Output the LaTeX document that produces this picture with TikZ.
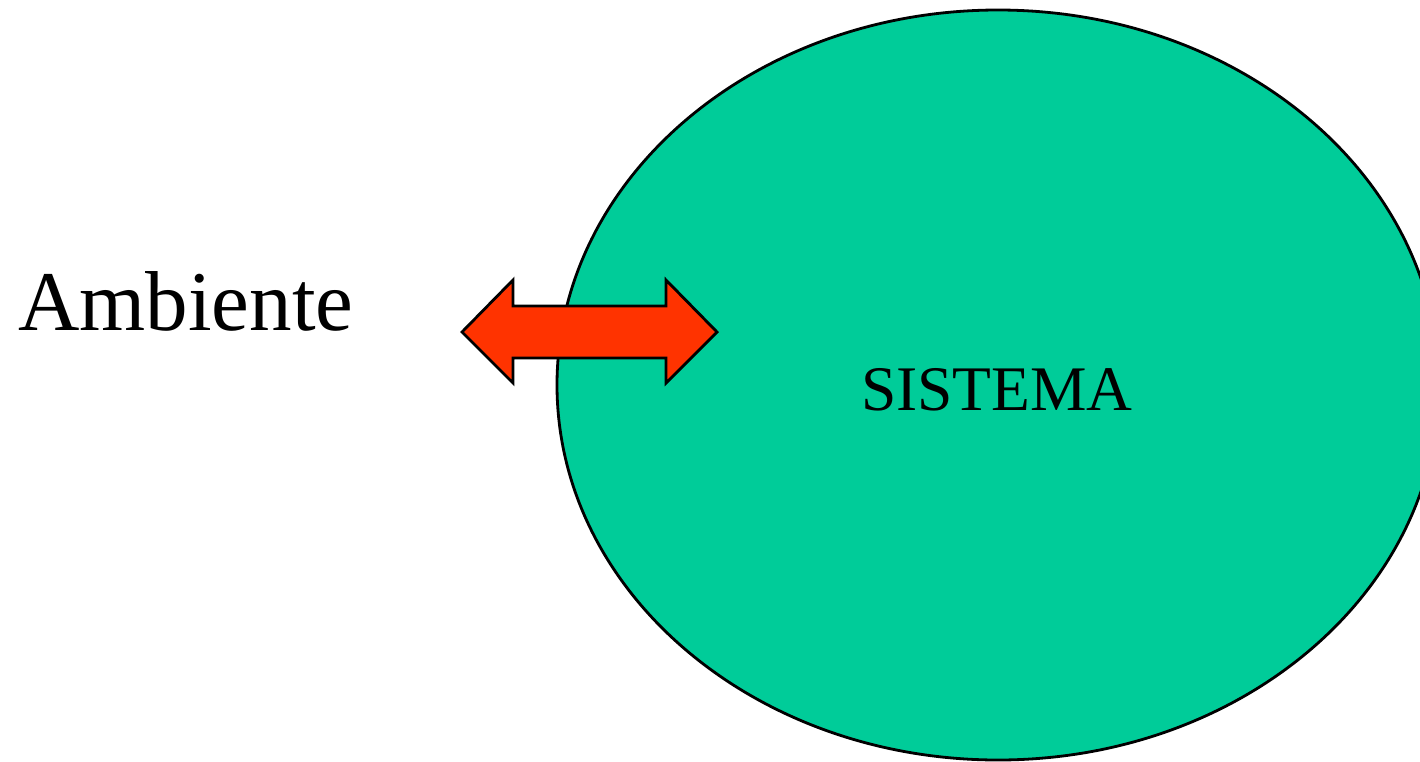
\documentclass[tikz,border=0pt]{standalone}
\usepackage{fontspec}
\setmainfont{Liberation Serif}
\definecolor{sysgreen}{HTML}{00CC99}
\definecolor{flowred}{HTML}{FF3300}
\begin{document}
\begin{tikzpicture}[x=1pt,y=-1pt,
  outline/.style={draw=black,line width=2.8pt,line join=miter}]
\useasboundingbox (0,0) rectangle (1420,761);
\begin{scope}
\clip (0,0) rectangle (1420,761);
% the system
\filldraw[fill=sysgreen,outline] (998,385) ellipse [x radius=441,y radius=375];
\end{scope}
\node[font=\fontsize{63.5}{70}\selectfont,anchor=base] (sys) at (997,410) {SISTEMA};
% environment label
\node[font=\fontsize{85}{90}\selectfont,anchor=base west,inner sep=0pt] (amb) at (18,330) {Ambiente};
% exchange arrow
\filldraw[fill=flowred,outline]
  (462,332) -- (513,280) -- (513,306) -- (666,306) -- (666,280) -- (717,332)
  -- (666,383) -- (666,358) -- (513,358) -- (513,383) -- cycle;
\end{tikzpicture}
\end{document}
